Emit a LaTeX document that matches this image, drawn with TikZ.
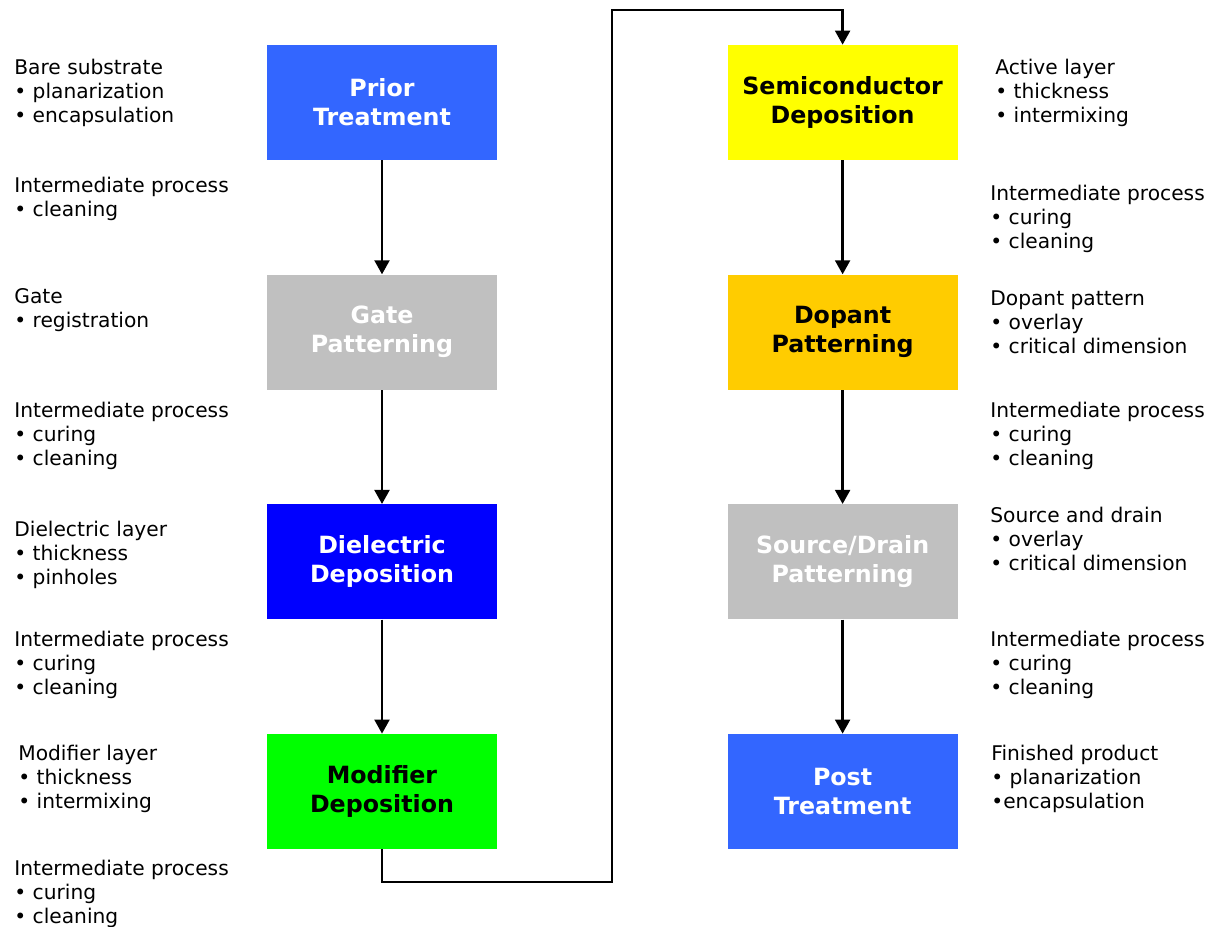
\documentclass[tikz,border=0pt]{standalone}
\usepackage{fontspec}
\setmainfont{DejaVu Sans}
\usepackage{tikz}
\usetikzlibrary{arrows.meta,positioning}
\definecolor{priorblue}{RGB}{51,102,255}
\definecolor{gategray}{RGB}{192,192,192}
\definecolor{dielblue}{RGB}{0,0,255}
\definecolor{modgreen}{RGB}{0,255,0}
\definecolor{semiyellow}{RGB}{255,255,0}
\definecolor{dopgold}{RGB}{255,204,0}

\begin{document}
\begin{tikzpicture}[x=0.02cm,y=-0.02cm,>={Triangle[width=8.5pt,length=8pt]},node distance=2.28cm,
  every node/.style={align=center},
  box/.style={minimum width=4.6cm,minimum height=2.3cm,inner sep=0pt,font=\fontsize{13.5}{16.5}\selectfont\bfseries},
  note/.style={anchor=west,align=left,inner sep=0pt,yshift=-1.7pt,font=\fontsize{11.5}{13.6}\selectfont},
  flow/.style={->,line width=1.4pt}]
  \useasboundingbox (0,0) rectangle (1208,927);
  % left column
  \node[box,fill=priorblue,text=white] (prior) at (382,102.5) {Prior\\Treatment};
  \node[box,fill=gategray,text=white,below=of prior] (gate) {Gate\\Patterning};
  \node[box,fill=dielblue,text=white,below=of gate] (diel) {Dielectric\\Deposition};
  \node[box,fill=modgreen,below=of diel] (modif) {Modifier\\Deposition};
  % right column
  \node[box,fill=semiyellow,right=4.6cm of prior] (semi) {Semiconductor\\Deposition};
  \node[box,fill=dopgold,below=of semi] (dopant) {Dopant\\Patterning};
  \node[box,fill=gategray,text=white,below=of dopant] (sd) {Source/Drain\\Patterning};
  \node[box,fill=priorblue,text=white,below=of sd] (post) {Post\\Treatment};
  \draw[flow] (prior) -- (gate);
  \draw[flow] (gate) -- (diel);
  \draw[flow] (diel) -- (modif);
  \draw[flow] (semi) -- (dopant);
  \draw[flow] (dopant) -- (sd);
  \draw[flow] (sd) -- (post);
  \coordinate (low) at (612,882);
  \coordinate (high) at (612,10);
  \draw[flow] (modif.south) |- (low) -- (high) -| (semi.north);
  % notes left
  \node[note] (n1) at (14,90) {Bare substrate\\• planarization\\• encapsulation};
  \node[note] (n2) at (14,196) {Intermediate process\\• cleaning};
  \node[note] (n3) at (14,307) {Gate\\• registration};
  \node[note] (n4) at (14,433) {Intermediate process\\• curing\\• cleaning};
  \node[note] (n5) at (14,552) {Dielectric layer\\• thickness\\• pinholes};
  \node[note] (n6) at (14,662) {Intermediate process\\• curing\\• cleaning};
  \node[note] (n7) at (18,776) {Modifier layer\\• thickness\\• intermixing};
  \node[note] (n8) at (14,891) {Intermediate process\\• curing\\• cleaning};
  % notes right
  \node[note] (m1) at (995,90) {Active layer\\• thickness\\• intermixing};
  \node[note] (m2) at (990,216) {Intermediate process\\• curing\\• cleaning};
  \node[note] (m3) at (990,319) {Dopant pattern\\• overlay\\• critical dimension};
  \node[note] (m4) at (990,433) {Intermediate process\\• curing\\• cleaning};
  \node[note] (m5) at (990,536) {Source and drain\\• overlay\\• critical dimension};
  \node[note] (m6) at (990,662) {Intermediate process\\• curing\\• cleaning};
  \node[note] (m7) at (991,776) {Finished product\\• planarization\\•encapsulation};
\end{tikzpicture}
\end{document}
